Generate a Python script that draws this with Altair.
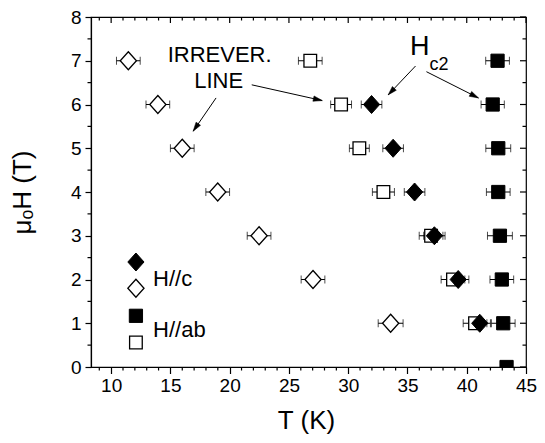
import math
import altair as alt
import pandas as pd

# ---------------- data ----------------
# H // c : irreversibility line (open diamonds)
c_irr_T = [11.45, 13.94, 16.0, 18.99, 22.48, 27.03, 33.58]
c_irr_H = [7, 6, 5, 4, 3, 2, 1]
c_irr_err = [1.0, 1.0, 1.0, 1.0, 1.0, 1.0, 1.05]
# H // c : Hc2 (filled diamonds)
c_hc2_T = [31.97, 33.79, 35.6, 37.27, 39.28, 41.1]
c_hc2_H = [6, 5, 4, 3, 2, 1]
c_hc2_err = [0.87, 0.87, 0.87, 0.9, 0.9, 0.9]
# H // ab : irreversibility line (open squares)
ab_irr_T = [26.8, 29.4, 30.94, 32.97, 36.99, 38.84, 40.7]
ab_irr_H = [7, 6, 5, 4, 3, 2, 1]
ab_irr_err = [1.0, 0.88, 0.84, 0.93, 1.0, 1.0, 1.0]
# H // ab : Hc2 (filled squares)
ab_hc2_T = [42.6, 42.19, 42.66, 42.66, 42.8, 42.96, 43.08, 43.36]
ab_hc2_H = [7, 6, 5, 4, 3, 2, 1, 0]
ab_hc2_err = [1.0, 0.98, 1.05, 1.0, 1.05, 1.0, 1.0, 0.0]

x_major = [10, 15, 20, 25, 30, 35, 40, 45]
x_minor = [9, 11, 12, 13, 14, 16, 17, 18, 19, 21, 22, 23, 24, 26, 27, 28, 29,
           31, 32, 33, 34, 36, 37, 38, 39, 41, 42, 43, 44]
y_major = [0, 1, 2, 3, 4, 5, 6, 7, 8]
y_minor = [0.5, 1.5, 2.5, 3.5, 4.5, 5.5, 6.5, 7.5]

legend_labels = ["H//c", "H//ab"]
annot_texts = ["IRREVER.", "LINE"]

# ---------------- layout / style ----------------
W, HT = 435, 350
XDOM = [8.3, 45]
YDOM = [0, 8]
FONT = "Liberation Sans"
DIAMOND = "M0,-1L0.9,0L0,1L-0.9,0Z"
ARROWHEAD = "M0,0L-0.3,1L0.3,1Z"

xscale = alt.Scale(domain=XDOM, nice=False, zero=False)
yscale = alt.Scale(domain=YDOM, nice=False, zero=False)

xaxis = alt.Axis(title="T (K)", values=x_major, format="d", grid=False,
                 tickSize=6.5, tickWidth=1.2, tickColor="black",
                 domainColor="black", domainWidth=1.2,
                 labelFont=FONT, labelFontSize=19, labelColor="black",
                 labelPadding=2.5, labelFlush=False,
                 titleFont=FONT, titleFontSize=26, titleFontWeight="normal",
                 titleColor="black", titleX=215, titleAlign="center",
                 titleY=61, titleBaseline="alphabetic")
yaxis = alt.Axis(title="μₒH (T)", values=y_major, format="d", grid=False,
                 tickSize=6, tickWidth=1.2, tickColor="black",
                 domainColor="black", domainWidth=1.2,
                 labelFont=FONT, labelFontSize=19, labelColor="black",
                 labelPadding=4,
                 titleFont=FONT, titleFontSize=26, titleFontWeight="normal",
                 titleColor="black", titleX=-61, titleBaseline="alphabetic")


def X(field="T"):
    return alt.X(f"{field}:Q", scale=xscale, axis=xaxis)


def Y(field="H"):
    return alt.Y(f"{field}:Q", scale=yscale, axis=yaxis)


def series_df(T, H, E):
    return pd.DataFrame({"T": T, "H": H, "err": E})


c_irr = series_df(c_irr_T, c_irr_H, c_irr_err)
c_hc2 = series_df(c_hc2_T, c_hc2_H, c_hc2_err)
ab_irr = series_df(ab_irr_T, ab_irr_H, ab_irr_err)
ab_hc2 = series_df(ab_hc2_T, ab_hc2_H, ab_hc2_err)

err_all = pd.concat([c_irr, c_hc2, ab_irr, ab_hc2], ignore_index=True)
err_all = err_all[err_all["err"] > 0].copy()
err_all["lo"] = err_all["T"] - err_all["err"]
err_all["hi"] = err_all["T"] + err_all["err"]

err_line = alt.Chart(err_all).mark_rule(color="black", strokeWidth=1).encode(
    x=X("lo"), x2="hi", y=Y())
cap_lo = alt.Chart(err_all).mark_tick(orient="vertical", color="black", thickness=1, size=8).encode(
    x=X("lo"), y=Y())
cap_hi = alt.Chart(err_all).mark_tick(orient="vertical", color="black", thickness=1, size=8).encode(
    x=X("hi"), y=Y())

open_sq = alt.Chart(ab_irr).mark_point(shape="square", size=160, filled=True, fill="white",
                                       stroke="black", strokeWidth=1.3, opacity=1, clip=True).encode(x=X(), y=Y())
fill_sq = alt.Chart(ab_hc2).mark_point(shape="square", size=175, filled=True, fill="black",
                                       stroke="black", strokeWidth=1, opacity=1, clip=True).encode(x=X(), y=Y())
open_di = alt.Chart(c_irr).mark_point(shape=DIAMOND, size=324, filled=True, fill="white",
                                      stroke="black", strokeWidth=1.3, opacity=1, clip=True).encode(x=X(), y=Y())
fill_di = alt.Chart(c_hc2).mark_point(shape=DIAMOND, size=324, filled=True, fill="black",
                                      stroke="black", strokeWidth=1, opacity=1, clip=True).encode(x=X(), y=Y())

# ---------------- frame ticks (minor + mirrored) ----------------
xmaj_df = pd.DataFrame({"T": x_major})
xmin_df = pd.DataFrame({"T": x_minor})
ymaj_df = pd.DataFrame({"H": y_major})
ymin_df = pd.DataFrame({"H": y_minor})

tick_style = dict(color="black", strokeWidth=1.2)
bottom_minor = alt.Chart(xmin_df).mark_rule(**tick_style).encode(
    x=X(), y=alt.value(HT), y2=alt.value(HT + 3.5))
left_minor = alt.Chart(ymin_df).mark_rule(**tick_style).encode(
    y=Y(), x=alt.value(0), x2=alt.value(-3.5))
top_major = alt.Chart(xmaj_df).mark_rule(**tick_style).encode(
    x=X(), y=alt.value(0), y2=alt.value(6))
top_minor = alt.Chart(xmin_df).mark_rule(**tick_style).encode(
    x=X(), y=alt.value(0), y2=alt.value(3.5))
right_major = alt.Chart(ymaj_df).mark_rule(**tick_style).encode(
    y=Y(), x=alt.value(W), x2=alt.value(W - 6))
right_minor = alt.Chart(ymin_df).mark_rule(**tick_style).encode(
    y=Y(), x=alt.value(W), x2=alt.value(W - 3.5))

# ---------------- legend (drawn inside plot) ----------------
LEG_T = 12.09
leg_fd = pd.DataFrame({"T": [LEG_T], "H": [2.40]})
leg_od = pd.DataFrame({"T": [LEG_T], "H": [1.80]})
leg_fs = pd.DataFrame({"T": [LEG_T], "H": [1.17]})
leg_os = pd.DataFrame({"T": [LEG_T], "H": [0.56]})
leg_txt = pd.DataFrame({"T": [13.54, 13.54], "H": [2.01, 0.85], "label": legend_labels})

legend_layers = [
    alt.Chart(leg_fd).mark_point(shape=DIAMOND, size=324, filled=True, fill="black", stroke="black",
                                 strokeWidth=1, opacity=1).encode(x=X(), y=Y()),
    alt.Chart(leg_od).mark_point(shape=DIAMOND, size=324, filled=True, fill="white", stroke="black",
                                 strokeWidth=1.3, opacity=1).encode(x=X(), y=Y()),
    alt.Chart(leg_fs).mark_point(shape="square", size=175, filled=True, fill="black", stroke="black",
                                 strokeWidth=1, opacity=1).encode(x=X(), y=Y()),
    alt.Chart(leg_os).mark_point(shape="square", size=160, filled=True, fill="white", stroke="black",
                                 strokeWidth=1.3, opacity=1).encode(x=X(), y=Y()),
    alt.Chart(leg_txt).mark_text(font=FONT, fontSize=22, align="left", baseline="middle",
                                 color="black").encode(x=X(), y=Y(), text="label:N"),
]

# ---------------- annotations ----------------
irr_txt = pd.DataFrame({"T": [19.15, 19.07], "H": [7.14, 6.53], "label": annot_texts})
hc2_H = pd.DataFrame({"T": [36.03], "H": [7.32], "label": ["H"]})
hc2_sub = pd.DataFrame({"T": [37.66], "H": [6.91], "label": ["c2"]})

arrows = pd.DataFrame({
    "T": [21.86, 18.85, 35.68, 36.6],
    "H": [6.45, 6.15, 6.88, 6.75],
    "T2": [27.81, 16.92, 33.37, 40.99],
    "H2": [6.09, 5.39, 6.22, 6.15],
})
sx = W / (XDOM[1] - XDOM[0])
sy = HT / (YDOM[1] - YDOM[0])
arrows["angle"] = [
    (math.degrees(math.atan2((t2 - t1) * sx, (h2 - h1) * sy)) + 360) % 360
    for t1, h1, t2, h2 in zip(arrows["T"], arrows["H"], arrows["T2"], arrows["H2"])
]
heads = pd.DataFrame({"T": arrows["T2"], "H": arrows["H2"], "angle": arrows["angle"]})

annot_layers = [
    alt.Chart(irr_txt).mark_text(font=FONT, fontSize=22, align="center", baseline="middle",
                                 color="black").encode(x=X(), y=Y(), text="label:N"),
    alt.Chart(hc2_H).mark_text(font=FONT, fontSize=27, align="center", baseline="middle",
                               color="black").encode(x=X(), y=Y(), text="label:N"),
    alt.Chart(hc2_sub).mark_text(font=FONT, fontSize=18, align="center", baseline="middle",
                                 color="black").encode(x=X(), y=Y(), text="label:N"),
    alt.Chart(arrows).mark_rule(color="black", strokeWidth=1).encode(
        x=X(), x2="T2", y=Y(), y2="H2"),
    alt.Chart(heads).mark_point(shape=ARROWHEAD, size=324, filled=True, fill="black",
                                stroke="black", strokeWidth=0.5, opacity=1).encode(
        x=X(), y=Y(), angle=alt.Angle("angle:Q", scale=None)),
]

chart = alt.layer(
    bottom_minor, left_minor, top_major, top_minor, right_major, right_minor,
    err_line, cap_lo, cap_hi,
    open_sq, fill_sq, open_di, fill_di,
    *legend_layers, *annot_layers,
).properties(
    width=W, height=HT,
    autosize=alt.AutoSizeParams(type="none"),
    padding={"left": 83, "top": 9, "right": 11, "bottom": 68},
    background="white",
).configure_view(stroke="black", strokeWidth=1.2)

chart.save("out.html", embed_options={"renderer": "svg", "actions": False})
